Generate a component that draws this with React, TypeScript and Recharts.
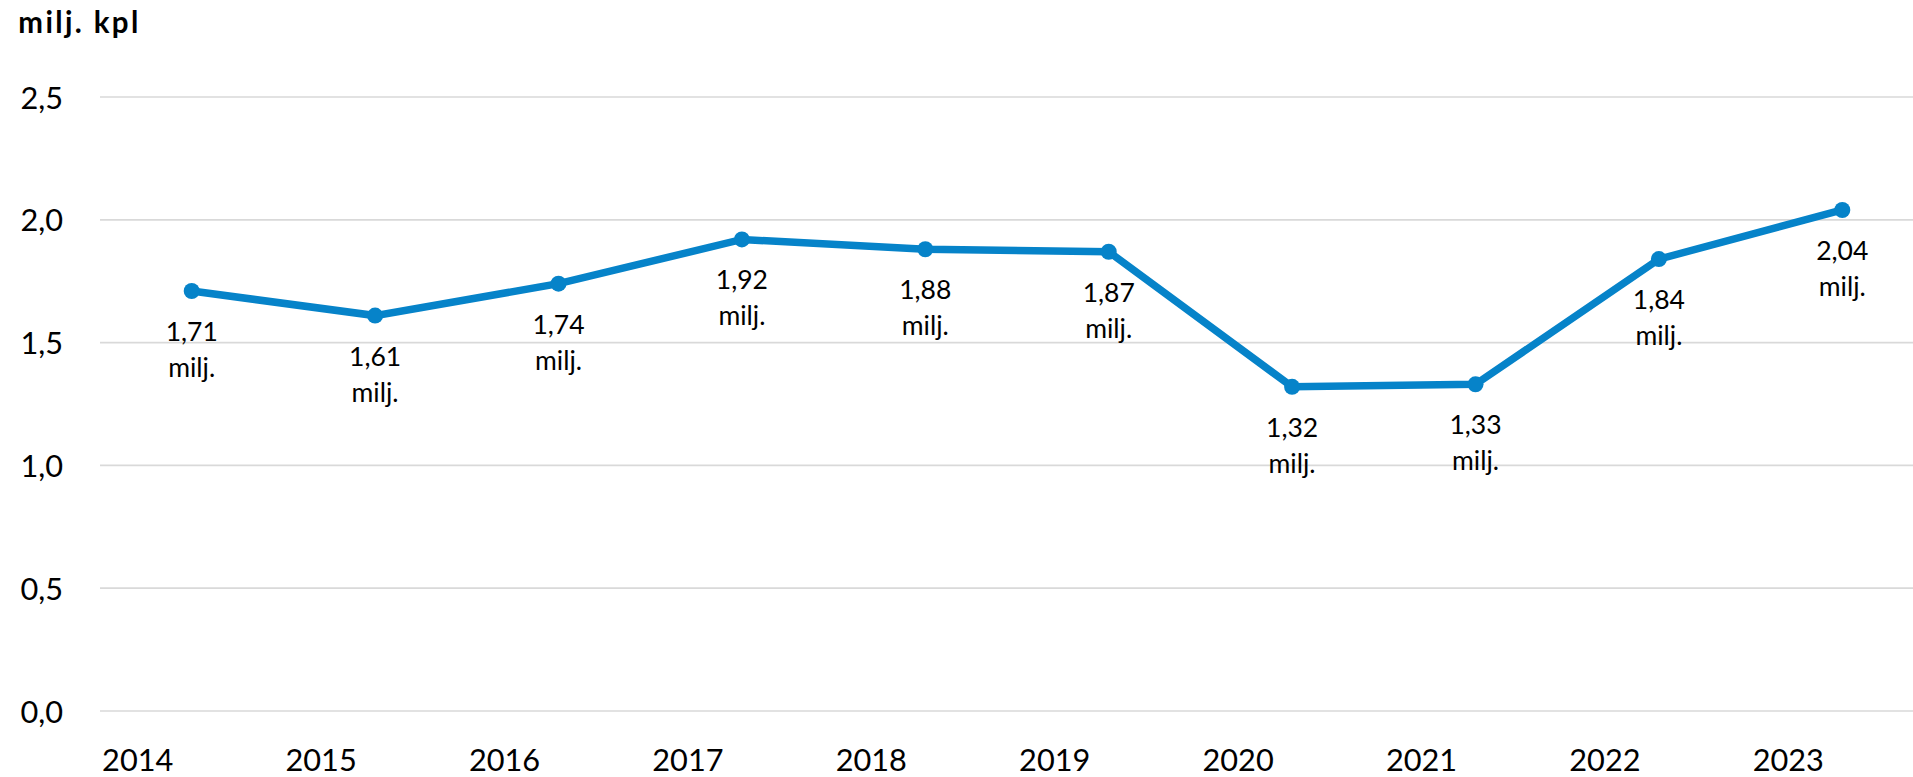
import React from "react";
import { LineChart, Line, XAxis, YAxis, CartesianGrid, LabelList } from "recharts";

const years = ["2014", "2015", "2016", "2017", "2018", "2019", "2020", "2021", "2022", "2023"];
const values = [1.71, 1.61, 1.74, 1.92, 1.88, 1.87, 1.32, 1.33, 1.84, 2.04];
const yTicks = [0, 0.5, 1, 1.5, 2, 2.5];
const unitLabel = "milj.";
const titleText = "milj. kpl";

const data = years.map((y, i) => ({ year: y, value: values[i] }));

const BLUE = "#0683C9";
const FONT = "Lato, 'Open Sans', sans-serif";
const fmt = (v: number, d: number) => v.toFixed(d).replace(".", ",");

const YTick = (props: any) => {
  const { x, y, payload } = props;
  return (
    <text x={x} y={y} textAnchor="end" dominantBaseline="central" fontFamily={FONT} fontSize={30.7} fill="#000">
      {fmt(payload.value, 1)}
    </text>
  );
};

const XTick = (props: any) => {
  const { x, y, payload } = props;
  return (
    <text x={x - 54} y={y + 48} textAnchor="middle" dominantBaseline="central" fontFamily={FONT} fontSize={30.7} fill="#000">
      {payload.value}
    </text>
  );
};

const PointLabel = (props: any) => {
  const { x, y, value } = props;
  return (
    <g>
      <text x={x} y={y + 50} textAnchor="middle" fontFamily={FONT} fontSize={26.5} fill="#000">
        {fmt(value, 2)}
      </text>
      <text x={x} y={y + 86} textAnchor="middle" fontFamily={FONT} fontSize={26.5} fill="#000">
        {unitLabel}
      </text>
    </g>
  );
};

export default function App() {
  return (
    <div style={{ position: "absolute", left: 0, top: 0, width: 1913, height: 777, overflow: "hidden", background: "#fff" }}>
      <svg width={200} height={50} style={{ position: "absolute", left: 0, top: 0 }}>
        <text
          x={18.3}
          y={33}
          fontFamily={FONT}
          fontWeight={700}
          fontSize={29.5}
          textLength={120}
          lengthAdjust="spacing"
          fill="#000"
        >
          {titleText}
        </text>
      </svg>
      <LineChart width={1940} height={777} data={data} margin={{ top: 97, right: 6, bottom: 0, left: 0 }}>
        <CartesianGrid horizontal vertical={false} stroke="#D9D9D9" strokeWidth={1.7} />
        <XAxis
          dataKey="year"
          axisLine={false}
          tickLine={false}
          tickSize={0}
          tickMargin={0}
          height={66}
          tick={<XTick />}
          interval={0}
          padding={{ left: 91.7, right: 91.7 }}
        />
        <YAxis
          domain={[0, 2.5]}
          ticks={yTicks}
          axisLine={false}
          tickLine={false}
          tickSize={0}
          tickMargin={37}
          width={100}
          tick={<YTick />}
          interval={0}
        />
        <Line
          type="linear"
          dataKey="value"
          stroke={BLUE}
          strokeWidth={7.5}
          dot={{ r: 8, fill: BLUE, stroke: BLUE, strokeWidth: 0 }}
          activeDot={false}
          isAnimationActive={false}
        >
          <LabelList dataKey="value" content={<PointLabel />} />
        </Line>
      </LineChart>
    </div>
  );
}
